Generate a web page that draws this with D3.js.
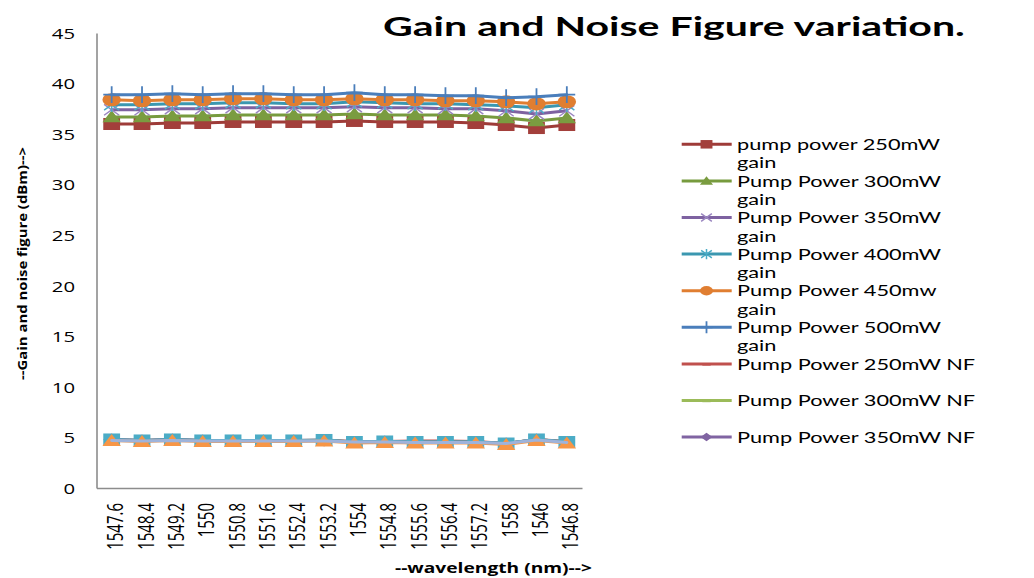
<!DOCTYPE html>
<html>
<head>
<meta charset="utf-8">
<script src="https://cdn.jsdelivr.net/npm/d3@7"></script>
<style>
  html, body { margin: 0; padding: 0; background: #ffffff; }
  svg { display: block; font-family: "Open Sans", Lato, sans-serif; }
</style>
</head>
<body>
<svg id="chart" width="1034" height="578"></svg>
<script>
// Wavelength categories (nm), in the order they were measured
const wavelengths = ["1547.6","1548.4","1549.2","1550","1550.8","1551.6","1552.4","1553.2","1554","1554.8","1555.6","1556.4","1557.2","1558","1546","1546.8"];

// Gain (dB) per pump power
const gain250 = [36.0, 36.0, 36.1, 36.1, 36.2, 36.2, 36.2, 36.2, 36.3, 36.2, 36.2, 36.2, 36.1, 35.9, 35.6, 35.9];
const gain300 = [36.7, 36.7, 36.8, 36.8, 36.9, 36.9, 36.9, 36.9, 37.0, 36.9, 36.9, 36.9, 36.8, 36.6, 36.3, 36.6];
const gain350 = [37.4, 37.4, 37.5, 37.5, 37.6, 37.6, 37.6, 37.6, 37.7, 37.6, 37.6, 37.5, 37.5, 37.3, 37.0, 37.3];
const gain400 = [37.9, 37.9, 38.0, 38.0, 38.1, 38.1, 38.0, 38.0, 38.2, 38.1, 38.0, 38.0, 37.9, 37.8, 37.6, 37.9];
const gain450 = [38.4, 38.3, 38.4, 38.4, 38.5, 38.5, 38.4, 38.4, 38.5, 38.4, 38.4, 38.3, 38.3, 38.2, 38.0, 38.2];
const gain500 = [38.9, 38.9, 39.0, 38.9, 39.0, 39.0, 38.9, 38.9, 39.1, 38.9, 38.9, 38.8, 38.8, 38.6, 38.7, 38.9];

// Noise figure (dB) per pump power
const nf250 = [4.80, 4.70, 4.80, 4.70, 4.70, 4.70, 4.70, 4.75, 4.60, 4.60, 4.65, 4.65, 4.60, 4.40, 4.80, 4.60];
const nf300 = [4.75, 4.70, 4.75, 4.70, 4.70, 4.70, 4.70, 4.70, 4.55, 4.60, 4.55, 4.55, 4.55, 4.40, 4.80, 4.55];
const nf350 = [4.80, 4.70, 4.80, 4.70, 4.70, 4.70, 4.70, 4.70, 4.55, 4.60, 4.55, 4.55, 4.55, 4.40, 4.80, 4.55];
const nf400 = [4.80, 4.70, 4.80, 4.70, 4.70, 4.70, 4.70, 4.75, 4.55, 4.60, 4.55, 4.55, 4.55, 4.40, 4.80, 4.55];
const nf450 = [4.70, 4.60, 4.70, 4.60, 4.60, 4.60, 4.60, 4.65, 4.45, 4.50, 4.45, 4.45, 4.45, 4.30, 4.70, 4.45];
const nf500 = [4.70, 4.65, 4.70, 4.65, 4.65, 4.65, 4.65, 4.65, 4.55, 4.55, 4.50, 4.50, 4.50, 4.40, 4.75, 4.50];

const seriesNames = [
  "pump power 250mW gain", "Pump Power 300mW gain", "Pump Power 350mW gain",
  "Pump Power 400mW gain", "Pump Power 450mw gain", "Pump Power 500mW gain",
  "Pump Power 250mW NF", "Pump Power 300mW NF", "Pump Power 350mW NF",
  "Pump Power 400mW NF", "Pump Power 450mW NF", "Pump Power 500mW NF"
];
const seriesValues = [gain250, gain300, gain350, gain400, gain450, gain500, nf250, nf300, nf350, nf400, nf450, nf500];
const seriesColors = ["#9e3b38", "#779b3e", "#7e62a1", "#3b97b0", "#e07e31", "#4a7ebb",
                      "#c0504d", "#9bbb59", "#8064a2", "#4bacc6", "#f79646", "#9eb3db"];
const markerColors = ["#a33f3b", "#7a9c40", "#9a86c0", "#4bacc6", "#e07e31", "#4a7ebb",
                      "#c0504d", "#9bbb59", "#8064a2", "#4bacc6", "#f79646", "#9eb3db"];
const seriesMarkers = ["square", "triangle", "x", "star", "circle", "plus",
                       "dash", "dash", "diamond", "square", "triangle", "none"];
const legendCount = 9;           // the legend box holds the first nine series
const yTicks = [0, 5, 10, 15, 20, 25, 30, 35, 40, 45];

const titleText = "Gain and Noise Figure variation.";
const xTitleText = "--wavelength (nm)-->";
const yTitleText = "--Gain and noise figure (dBm)-->";

// ---------------------------------------------------------------------------
const SX = 1.4;    // horizontal glyph / marker stretch
const svg = d3.select("#chart");

const plot = { left: 96.5, right: 582, top: 33, bottom: 488 };
const x = d3.scaleBand().domain(wavelengths).range([plot.left, plot.right]);
const y = d3.scaleLinear().domain([0, 45]).range([plot.bottom, plot.top]);
const cx = d => x(d) + x.bandwidth() / 2;

// fit a text element horizontally to a target width
function fitWidth(sel, px, py, width) {
  const w = sel.node().getComputedTextLength();
  sel.attr("transform", `translate(${px},${py}) scale(${width / w},1)`);
}

// title
const title = svg.append("text")
  .attr("font-family", "Lato, sans-serif")
  .attr("font-weight", "bold").attr("font-size", 27).attr("fill", "#000")
  .text(titleText);
fitWidth(title, 383, 36, 582);

// y axis
const yAxis = svg.append("g")
  .attr("transform", `translate(${plot.left},0)`)
  .call(d3.axisLeft(y).tickValues(yTicks).tickSize(0).tickFormat(d3.format("d")));
yAxis.select(".domain").attr("stroke", "#8c8c8c").attr("stroke-width", 1.6);
yAxis.selectAll("text")
  .attr("x", 0).attr("dy", "0.36em")
  .attr("font-family", "'Open Sans', sans-serif").attr("font-size", 14.5).attr("fill", "#000")
  .attr("text-anchor", "end")
  .attr("transform", `translate(-21.5,0) scale(${SX},1)`);

// x axis
const xAxis = svg.append("g")
  .attr("transform", `translate(0,${plot.bottom})`)
  .call(d3.axisBottom(x).tickSize(0));
xAxis.select(".domain").attr("stroke", "#8c8c8c").attr("stroke-width", 1.6);
xAxis.selectAll("text")
  .attr("x", 0).attr("y", 0).attr("dy", "0.36em")
  .attr("font-family", "'Open Sans', sans-serif").attr("font-size", 15).attr("fill", "#000")
  .attr("text-anchor", "end")
  .attr("transform", `translate(4,15) scale(${SX},1) rotate(-90)`);

// axis titles
const xTitle = svg.append("text")
  .attr("font-weight", "bold").attr("font-size", 14.5).attr("fill", "#000")
  .text(xTitleText);
fitWidth(xTitle, 395, 573, 197);

svg.append("text")
  .attr("font-weight", "bold").attr("font-size", 13).attr("fill", "#000")
  .attr("text-anchor", "middle")
  .attr("textLength", 233).attr("lengthAdjust", "spacingAndGlyphs")
  .attr("transform", "translate(26.5,263.5) rotate(-90)")
  .text(yTitleText);

// markers
function drawMarker(g, type, color, k) {
  const strokeAttrs = sel => sel.attr("fill", "none").attr("stroke", color)
    .attr("stroke-width", 1.5).attr("vector-effect", "non-scaling-stroke");
  switch (type) {
    case "square":
      g.append("rect").attr("x", -5 * k).attr("y", -5 * k)
        .attr("width", 10 * k).attr("height", 10 * k).attr("fill", color);
      break;
    case "triangle":
      g.append("path").attr("d", `M0,${-5.5 * k}L${5.5 * k},${4.5 * k}L${-5.5 * k},${4.5 * k}Z`).attr("fill", color);
      break;
    case "circle":
      g.append("circle").attr("r", 5.5 * k).attr("fill", color);
      break;
    case "diamond":
      g.append("path").attr("d", `M0,${-5 * k}L${5 * k},0L0,${5 * k}L${-5 * k},0Z`).attr("fill", color);
      break;
    case "x":
      strokeAttrs(g.append("path").attr("d", `M${-4.5 * k},${-4.5 * k}L${4.5 * k},${4.5 * k}M${-4.5 * k},${4.5 * k}L${4.5 * k},${-4.5 * k}`));
      break;
    case "star":
      strokeAttrs(g.append("path").attr("d", `M${-4.5 * k},${-4.5 * k}L${4.5 * k},${4.5 * k}M${-4.5 * k},${4.5 * k}L${4.5 * k},${-4.5 * k}M0,${-6 * k}L0,${6 * k}`));
      break;
    case "plus":
      strokeAttrs(g.append("path").attr("d", `M0,${-7 * k}L0,${7 * k}M${-5 * k},0L${5 * k},0`)).attr("stroke-width", 1.8);
      break;
    case "dash":
      g.append("rect").attr("x", -3.5 * k).attr("y", -1 * k)
        .attr("width", 7 * k).attr("height", 3 * k).attr("fill", color);
      break;
  }
}

// series
const line = d3.line().x((d, i) => cx(wavelengths[i])).y(d => y(d));
seriesValues.forEach((vals, s) => {
  const g = svg.append("g").attr("class", "series");
  g.append("path").datum(vals)
    .attr("d", line)
    .attr("fill", "none").attr("stroke", seriesColors[s])
    .attr("stroke-width", 3).attr("stroke-linejoin", "round").attr("stroke-linecap", "round");
  if (seriesMarkers[s] !== "none") {
    g.selectAll("g.mk").data(vals).join("g").attr("class", "mk")
      .attr("transform", (d, i) => `translate(${cx(wavelengths[i])},${y(d)}) scale(${SX},1)`)
      .each(function () { drawMarker(d3.select(this), seriesMarkers[s], markerColors[s], 1.2); });
  }
});

// legend
const legend = svg.append("g").attr("font-family", "Lato, sans-serif");
const legendRows = d3.range(legendCount);
const legendFont = 15.5;
const probe = legend.append("text").attr("font-size", legendFont).text("Pump Power 250mW NF");
const legendScale = 238.3 / probe.node().getComputedTextLength();
probe.remove();

legendRows.forEach(i => {
  const base = 150 + i * 36.6;
  const ly = base - 5.7;
  legend.append("line")
    .attr("x1", 681.7).attr("x2", 731.7).attr("y1", ly).attr("y2", ly)
    .attr("stroke", seriesColors[i]).attr("stroke-width", 3);
  const mg = legend.append("g").attr("transform", `translate(706.5,${ly}) scale(${SX},1)`);
  drawMarker(mg, seriesMarkers[i], markerColors[i], 0.85);
  const lines = seriesNames[i].split(/ (?=gain$)/);
  lines.forEach((t, j) => {
    legend.append("text")
      .attr("font-size", legendFont).attr("fill", "#000")
      .attr("transform", `translate(737,${base + j * 18.3}) scale(${legendScale},1)`)
      .text(t);
  });
});
</script>
</body>
</html>
